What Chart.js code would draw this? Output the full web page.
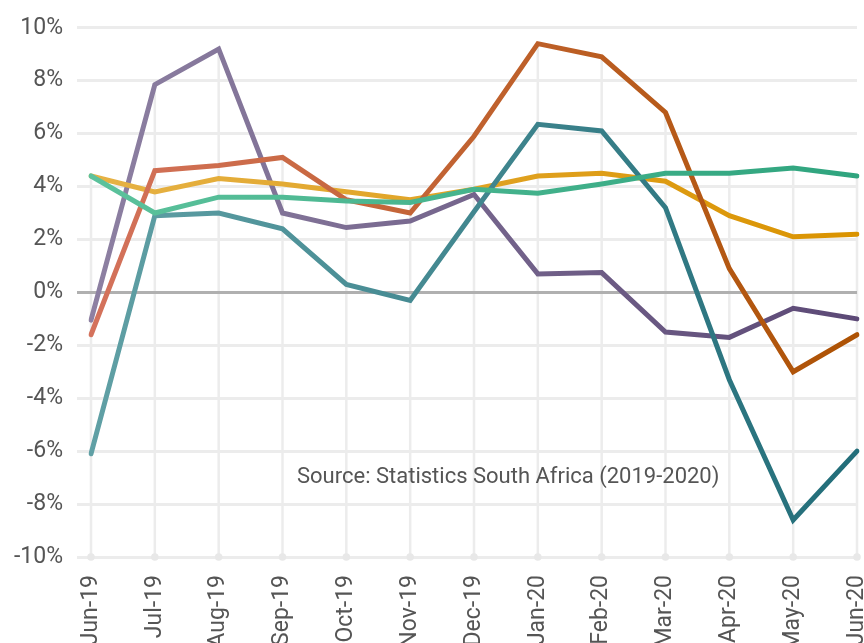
<!DOCTYPE html>
<html>
<head>
<meta charset="utf-8">
<script src="https://cdn.jsdelivr.net/npm/chart.js@4.4.0/dist/chart.umd.min.js"></script>
<style>
  html, body { margin: 0; padding: 0; background: #fff; }
  #wrap { width: 864px; height: 643px; position: relative; }
</style>
</head>
<body>
<div id="wrap"><canvas id="myChart"></canvas></div>
<script>
// months on the x axis
const months = ['Jun-19', 'Jul-19', 'Aug-19', 'Sep-19', 'Oct-19', 'Nov-19', 'Dec-19',
                'Jan-20', 'Feb-20', 'Mar-20', 'Apr-20', 'May-20', 'Jun-20'];

// growth rates (%)
const greenSeries  = [4.4, 3.0, 3.6, 3.6, 3.45, 3.4, 3.9, 3.75, 4.1, 4.5, 4.5, 4.7, 4.4];
const orangeSeries = [-1.6, 4.6, 4.8, 5.1, 3.5, 3.0, 5.9, 9.4, 8.9, 6.8, 0.9, -3.0, -1.6];
const tealSeries   = [-6.1, 2.9, 3.0, 2.4, 0.3, -0.3, 3.05, 6.35, 6.1, 3.2, -3.3, -8.6, -6.0];
const yellowSeries = [4.4, 3.8, 4.3, 4.1, 3.8, 3.5, 3.9, 4.4, 4.5, 4.2, 2.9, 2.1, 2.2];
const purpleSeries = [-1.05, 7.85, 9.2, 3.0, 2.45, 2.7, 3.7, 0.7, 0.75, -1.5, -1.7, -0.6, -1.0];

const yTicks = [-10, -8, -6, -4, -2, 0, 2, 4, 6, 8, 10];
const sourceNote = 'Source: Statistics South Africa (2019-2020)';

const allSeries = [greenSeries, orangeSeries, tealSeries, yellowSeries, purpleSeries];

function fade(from, to) {
  return function (context) {
    const { ctx, chartArea } = context.chart;
    if (!chartArea) return to;
    const g = ctx.createLinearGradient(chartArea.left, 0, chartArea.right, 0);
    g.addColorStop(0, from);
    g.addColorStop(1, to);
    return g;
  };
}

function makeLine(label, data, from, to) {
  return {
    label: label,
    data: data,
    borderColor: fade(from, to),
    borderWidth: 5,
    borderCapStyle: 'round',
    borderJoinStyle: 'miter',
    pointRadius: 0,
    pointHoverRadius: 0,
    tension: 0,
    fill: false
  };
}

// vertical drop lines from the highest value down to the axis, with a dot
const dropLines = {
  id: 'dropLines',
  beforeDatasetsDraw(chart) {
    const ctx = chart.ctx;
    const x = chart.scales.x, y = chart.scales.y;
    const bottom = chart.chartArea.bottom;
    ctx.save();
    ctx.strokeStyle = '#ececec';
    ctx.fillStyle = '#e8e8e8';
    ctx.lineWidth = 2.5;
    months.forEach((m, i) => {
      const top = Math.max(...allSeries.map(s => s[i]));
      const px = x.getPixelForValue(i);
      ctx.beginPath();
      ctx.moveTo(px, y.getPixelForValue(top));
      ctx.lineTo(px, bottom);
      ctx.stroke();
      ctx.beginPath();
      ctx.arc(px, bottom, 3.8, 0, Math.PI * 2);
      ctx.fill();
    });
    // redraw zero line on top of drop lines
    const zy = y.getPixelForValue(0);
    ctx.strokeStyle = '#b0b0b0';
    ctx.lineWidth = 3;
    ctx.beginPath();
    ctx.moveTo(chart.chartArea.left - 14, zy);
    ctx.lineTo(chart.chartArea.right, zy);
    ctx.stroke();
    ctx.restore();
  }
};

const sourceText = {
  id: 'sourceText',
  afterDatasetsDraw(chart) {
    const ctx = chart.ctx;
    ctx.save();
    ctx.font = '22px Roboto';
    ctx.fillStyle = '#555555';
    ctx.textAlign = 'left';
    ctx.textBaseline = 'middle';
    ctx.fillText(sourceNote, chart.chartArea.left + 206, 477);
    ctx.restore();
  }
};

const hdt = document.getElementById('myChart');
let myChart = new Chart(hdt, {
  type: 'line',
  data: {
    labels: months,
    datasets: [
      makeLine('Series 1', greenSeries, '#5cc29c', '#2fa47e'),
      makeLine('Series 2', orangeSeries, '#d4725c', '#ad5203'),
      makeLine('Series 3', tealSeries, '#60a0a5', '#226d79'),
      makeLine('Series 4', yellowSeries, '#e6b245', '#da9300'),
      makeLine('Series 5', purpleSeries, '#8d80a2', '#5c4976')
    ]
  },
  options: {
    responsive: true,
    maintainAspectRatio: false,
    animation: false,
    layout: { padding: { top: 25, right: 7, left: 0, bottom: 0 } },
    plugins: {
      legend: { display: false },
      tooltip: { enabled: false }
    },
    scales: {
      x: {
        offset: false,
        grid: { display: false, drawTicks: false },
        border: { display: false },
        ticks: {
          autoSkip: false,
          minRotation: 90,
          maxRotation: 90,
          padding: 18,
          color: '#555555',
          font: { family: 'Roboto', size: 23 }
        },
        afterFit(axis) {
          axis.height = 86;
          axis.paddingLeft = 0;
          axis.paddingRight = 0;
        }
      },
      y: {
        min: -10,
        max: 10,
        afterBuildTicks(axis) { axis.ticks = yTicks.map(v => ({ value: v })); },
        grid: {
          color: ctx => (ctx.tick && ctx.tick.value === 0) ? '#b0b0b0' : '#ececec',
          lineWidth: 3,
          drawTicks: true,
          tickLength: 14
        },
        border: { display: false },
        ticks: {
          padding: 14,
          color: '#555555',
          font: { family: 'Roboto', size: 23 },
          callback: v => v + '%'
        },
        afterFit(axis) { axis.width = 91; }
      }
    }
  },
  plugins: [dropLines, sourceText]
});
</script>
</body>
</html>
